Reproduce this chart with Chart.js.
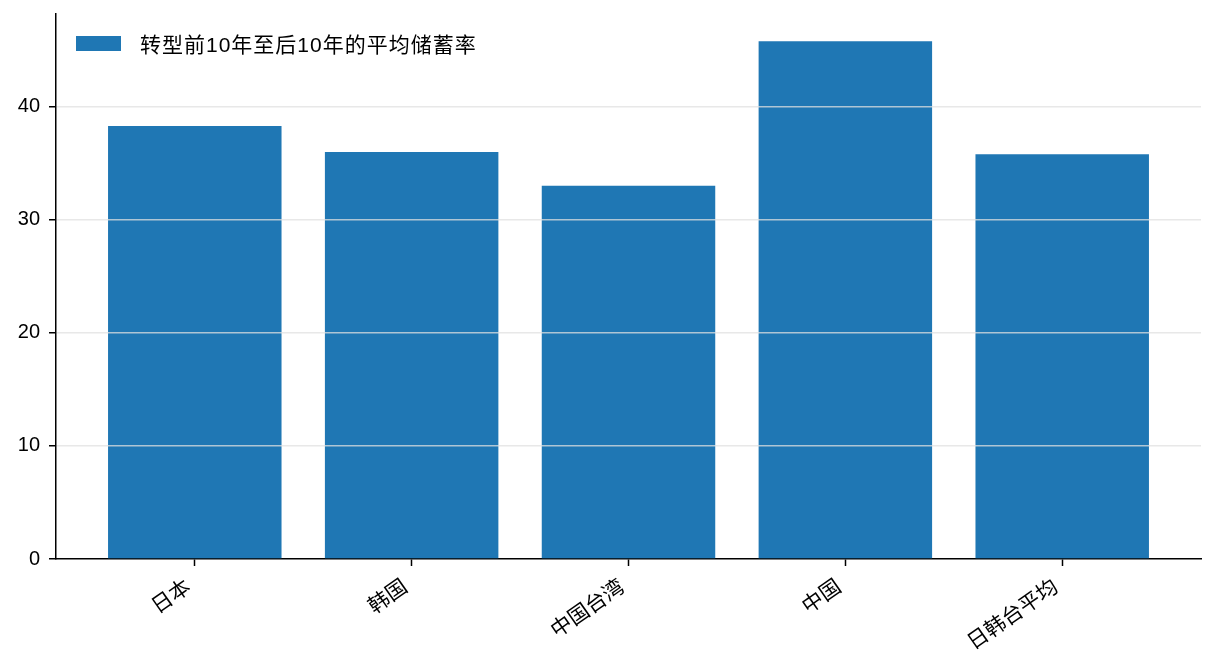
<!DOCTYPE html>
<html>
<head>
<meta charset="utf-8">
<script src="https://cdn.jsdelivr.net/npm/chart.js@4"></script>
<style>
  html, body { margin: 0; padding: 0; background: #fff; }
  #wrap { position: relative; width: 1216px; height: 672px; }
  #legend {
    position: absolute; display: flex; align-items: center;
    font-family: "Liberation Sans", "Noto Sans CJK SC", sans-serif;
    font-size: 21px; letter-spacing: 1px; color: #000; white-space: nowrap;
  }
  #legend .swatch { width: 45px; height: 15px; margin-right: 19px; }
</style>
</head>
<body>
<div id="wrap">
  <canvas id="chart" width="1216" height="672"></canvas>
  <div id="legend"><span class="swatch"></span><span class="label"></span></div>
</div>
<script>
// ===== Data =====
const categories = ['日本', '韩国', '中国台湾', '中国', '日韩台平均'];
const savingRates = [38.3, 36.0, 33.0, 45.8, 35.8];
const seriesLabel = '转型前10年至后10年的平均储蓄率';
const yTicks = [0, 10, 20, 30, 40];

const barColor = '#1f77b4';
const gridColor = 'rgba(224, 224, 224, 0.75)';
const fontFamily = '"Liberation Sans", "Noto Sans CJK SC", sans-serif';

// html legend inside the plot, top-left
const legendEl = document.getElementById('legend');
legendEl.querySelector('.swatch').style.background = barColor;
legendEl.querySelector('.label').textContent = seriesLabel;

const placeLegend = {
    id: 'placeLegend',
    afterRender(chart) {
        const a = chart.chartArea;
        legendEl.style.left = (a.left + 20) + 'px';
        legendEl.style.top = (a.top + 14) + 'px';
    }
};

const ctx = document.getElementById('chart').getContext('2d');
new Chart(ctx, {
    type: 'bar',
    data: {
        datasets: [{
            label: seriesLabel,
            data: categories.map((c, i) => ({ x: i, y: savingRates[i] })),
            backgroundColor: barColor,
            borderWidth: 0,
            barPercentage: 0.8,
            categoryPercentage: 1.0
        }]
    },
    options: {
        responsive: false,
        animation: false,
        layout: { padding: { left: 0, right: 15, top: 14, bottom: 0 } },
        plugins: {
            legend: { display: false },
            tooltip: { enabled: false }
        },
        scales: {
            x: {
                type: 'linear',
                offset: false,
                min: -0.64,
                max: categories.length - 1 + 0.64,
                afterBuildTicks: s => { s.ticks = categories.map((c, i) => ({ value: i })); },
                afterFit: s => { s.height = 113; s.paddingLeft = 0; s.paddingRight = 0; },
                border: { color: '#000', width: 1.5 },
                grid: { offset: false, drawOnChartArea: false, tickColor: '#000', tickLength: 7, tickWidth: 1.5 },
                ticks: {
                    color: '#000',
                    font: { family: fontFamily, size: 21 },
                    padding: 9,
                    labelOffset: -6,
                    autoSkip: false,
                    minRotation: 35,
                    maxRotation: 35,
                    callback: v => categories[v]
                }
            },
            y: {
                min: 0,
                max: 48.2,
                afterBuildTicks: s => { s.ticks = yTicks.map(v => ({ value: v })); },
                afterFit: s => { s.width = 56; s.paddingTop = 0; s.paddingBottom = 0; },
                border: { color: '#000', width: 1.5, z: 1 },
                grid: {
                    z: 1,
                    color: c => (c.tick && c.tick.value === 0) ? 'rgba(0,0,0,0)' : gridColor,
                    lineWidth: 1.5,
                    tickColor: '#000',
                    tickLength: 7,
                    tickWidth: 1.5
                },
                ticks: {
                    color: '#000',
                    font: { family: fontFamily, size: 20 },
                    padding: 9
                }
            }
        }
    },
    plugins: [placeLegend]
});
</script>
</body>
</html>
